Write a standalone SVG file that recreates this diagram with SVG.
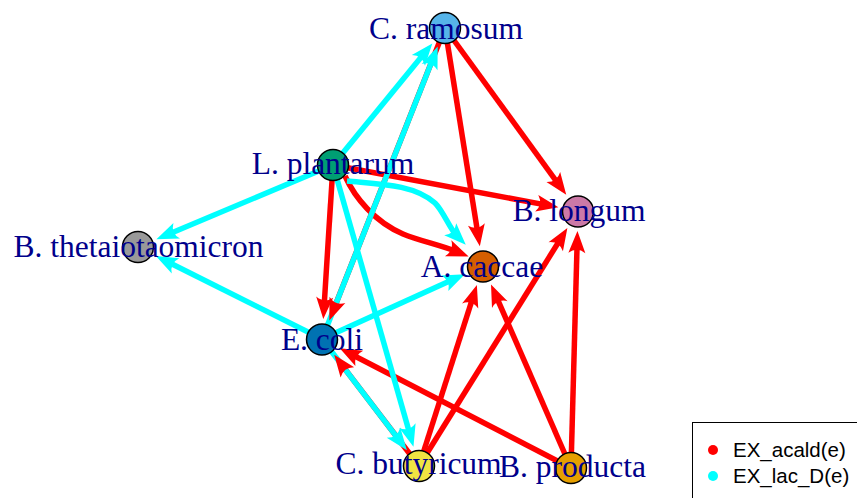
<svg xmlns="http://www.w3.org/2000/svg" width="857" height="498" viewBox="0 0 857 498">
<style>
.e{fill:none;stroke-width:5.5;stroke-linecap:butt}
.r{stroke:#FF0000;marker-end:url(#ar)}
.r0{stroke:#FF0000}
.c{stroke:#00FFFF;marker-end:url(#ac)}
.n{stroke:#000;stroke-width:1.5}
.lb{font-family:"Liberation Serif","Times New Roman",serif;font-size:31.5px;fill:#00008B;text-anchor:middle}
.lg{font-family:"Liberation Sans",Arial,sans-serif;font-size:20.5px;fill:#000}
</style>
<defs>
<marker id="ar" markerUnits="userSpaceOnUse" markerWidth="40" markerHeight="40" refX="0" refY="0" orient="auto" overflow="visible"><path d="M13,0 L-9,-8.5 Q-2.5,0 -9,8.5 Z" fill="#FF0000"/></marker>
<marker id="ac" markerUnits="userSpaceOnUse" markerWidth="40" markerHeight="40" refX="0" refY="0" orient="auto" overflow="visible"><path d="M13,0 L-9,-8.5 Q-2.5,0 -9,8.5 Z" fill="#00FFFF"/></marker>
</defs>
<rect width="857" height="498" fill="#fff"/>
<g id="edges">
<path class="e r0" d="M445,28 L334.1,308.3"/>
<path class="e r0" d="M419,466 L342,365.2"/>
<path class="e r" d="M445,28 L477.8,233.4"/>
<path class="e r" d="M445,28 L558.6,184.3"/>
<path class="e r" d="M333,165 L545.6,204.9"/>
<path class="e r" d="M345,176 C355,198 375,222 403,234 C420,241 440,245 456.5,251.6"/>
<path class="e r" d="M333,165 L324.1,306.1"/>
<path class="e r" d="M419,466 L472.9,297.4"/>
<path class="e r" d="M419,466 L560.5,239"/>
<path class="e r" d="M571,468 L577.1,244"/>
<path class="e r" d="M571,468 L496.2,296.3"/>
<path class="e r" d="M571,468 L351.3,354.2"/>
<path class="e c" d="M333,165 L424.1,53.5"/>
<path class="e c" d="M322,339 L432.9,58.7"/>
<path class="e c" d="M333,165 L168.4,234.2"/>
<path class="e c" d="M322,339 L167.5,261.8"/>
<path class="e c" d="M347,181 C378,184 414,184 435,203 C443.1,210.8 449.6,228.5 456.6,235.5"/>
<path class="e c" d="M333,165 L409.9,434.3"/>
<path class="e c" d="M322,339 L453,279.6"/>
<path class="e c" d="M322,339 L399,439.8"/>
<path class="e r" d="M334.84,306.44 L334.1,308.3"/>
<path class="e r" d="M343.2,366.8 L342,365.2"/>
</g>
<g id="n_c_ramosum"><circle class="n" cx="445" cy="28" r="15.5" fill="#56B4E9"/><text class="lb" x="446" y="39">C. ramosum</text></g>
<g id="n_l_plantarum"><circle class="n" cx="333" cy="165" r="15.5" fill="#009E73"/><text class="lb" x="333" y="174">L. plantarum</text></g>
<g id="n_b_longum"><circle class="n" cx="578" cy="211.5" r="15.5" fill="#CC79A7"/><text class="lb" x="579" y="221">B. longum</text></g>
<g id="n_a_caccae"><circle class="n" cx="483" cy="266.5" r="15.5" fill="#D55E00"/><text class="lb" x="482" y="277">A. caccae</text></g>
<g id="n_b_thetaiotaomicron"><circle class="n" cx="138" cy="247" r="15.5" fill="#999999"/><text class="lb" x="138.5" y="257">B. thetaiotaomicron</text></g>
<g id="n_e_coli"><circle class="n" cx="322" cy="339.5" r="15.5" fill="#0072B2"/><text class="lb" x="322" y="349.5">E. coli</text></g>
<g id="n_c_butyricum"><circle class="n" cx="419" cy="466" r="15.5" fill="#F0E442"/><text class="lb" x="418.5" y="474">C. butyricum</text></g>
<g id="n_b_producta"><circle class="n" cx="571" cy="468" r="15.5" fill="#E69F00"/><text class="lb" x="572.5" y="477">B. producta</text></g>
<g id="legend">
<rect x="692.5" y="422.5" width="200" height="100" fill="#fff" stroke="#000" stroke-width="1"/>
<circle cx="713" cy="450" r="5" fill="#FF0000"/>
<circle cx="713" cy="476" r="5" fill="#00FFFF"/>
<text class="lg" x="733" y="457">EX_acald(e)</text>
<text class="lg" x="733" y="483">EX_lac_D(e)</text>
</g>
</svg>
